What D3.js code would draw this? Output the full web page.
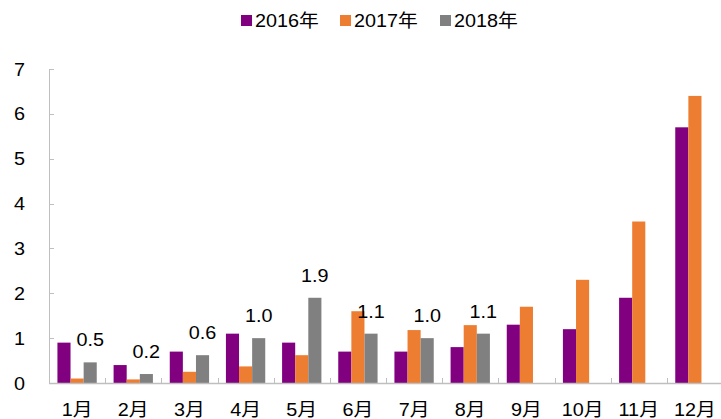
<!DOCTYPE html>
<html><head><meta charset="utf-8">
<script src="https://cdn.jsdelivr.net/npm/d3@7"></script>
<style>
html,body{margin:0;padding:0;background:#fff;}
svg text{font-family:"Liberation Sans",Arial,"Noto Sans CJK SC",sans-serif;fill:#000;}
</style></head>
<body>
<svg id="c" width="721" height="419"></svg>
<script>
const months = ["1月","2月","3月","4月","5月","6月","7月","8月","9月","10月","11月","12月"];
const seriesNames = ["2016年","2017年","2018年"];
const colors = ["#800080","#ED7D31","#808080"];
const v2016 = [0.9,0.4,0.7,1.1,0.9,0.7,0.7,0.8,1.3,1.2,1.9,5.7];
const v2017 = [0.1,0.08,0.25,0.37,0.62,1.6,1.18,1.29,1.7,2.3,3.6,6.4];
const v2018 = [0.46,0.2,0.62,1.0,1.9,1.1,1.0,1.1,null,null,null,null];
const labels2018 = ["0.5","0.2","0.6","1.0","1.9","1.1","1.0","1.1",null,null,null,null];
const yTicks = [0,1,2,3,4,5,6,7];

const values = [v2016, v2017, v2018];
const svg = d3.select("#c");
const fs = 18;
const sx = 1.1; // horizontal stretch of text as in reference

const x = d3.scaleBand().domain(months).range([49, 723]).paddingInner(0.3).paddingOuter(0.15);
const xs = d3.scaleBand().domain(seriesNames).range([0, x.bandwidth()]);
const y = d3.scaleLinear().domain([0, 7]).range([383, 69]);
const axisCol = "#bfbfbf";

function txt(g, tx, ty, anchor, s) {
  return g.append("text")
    .attr("transform", `translate(${tx},${ty}) scale(${sx},1)`)
    .attr("text-anchor", anchor).attr("font-size", fs).text(s);
}

// bars
seriesNames.forEach((s, si) => {
  svg.append("g").selectAll("rect")
    .data(months.map((m, i) => ({m, v: values[si][i]})).filter(d => d.v != null))
    .join("rect")
    .attr("x", d => x(d.m) + xs(s))
    .attr("y", d => y(d.v))
    .attr("width", xs.bandwidth())
    .attr("height", d => y(0) - y(d.v))
    .attr("fill", colors[si]);
});

// axes
const step = x.step();
const off = step * x.paddingInner() / 2;
svg.append("line").attr("x1", 49.5).attr("x2", 49.5).attr("y1", y(7)).attr("y2", y(0))
  .attr("stroke", axisCol).attr("stroke-width", 1);
svg.append("line").attr("x1", 49).attr("x2", 721).attr("y1", y(0) + 0.5).attr("y2", y(0) + 0.5)
  .attr("stroke", axisCol).attr("stroke-width", 1.5);
svg.append("g").selectAll("line").data(yTicks).join("line")
  .attr("x1", 49).attr("x2", 54)
  .attr("y1", d => Math.round(y(d)) + 0.5).attr("y2", d => Math.round(y(d)) + 0.5)
  .attr("stroke", axisCol);
const gy = svg.append("g");
yTicks.forEach(d => txt(gy, 25, y(d) + 6.5, "end", d));
svg.append("g").selectAll("line").data(months.slice(1)).join("line")
  .attr("x1", d => Math.round(x(d) - off) + 0.5).attr("x2", d => Math.round(x(d) - off) + 0.5)
  .attr("y1", y(0) - 5).attr("y2", y(0))
  .attr("stroke", axisCol);
const gx = svg.append("g");
months.forEach(d => txt(gx, x(d) + x.bandwidth() / 2, 416, "middle", d));

// 2018 labels
const gl = svg.append("g");
months.forEach((m, i) => {
  if (v2018[i] == null) return;
  txt(gl, x(m) + xs("2018年") + xs.bandwidth() / 2, y(v2018[i]) - 16, "middle", labels2018[i]);
});

// legend
const legX = [241, 340, 440];
const lg = svg.append("g");
seriesNames.forEach((s, i) => {
  lg.append("rect").attr("x", legX[i]).attr("y", 15).attr("width", 11).attr("height", 11).attr("fill", colors[i]);
  txt(lg, legX[i] + 14, 27, "start", s);
});
</script>
</body></html>
